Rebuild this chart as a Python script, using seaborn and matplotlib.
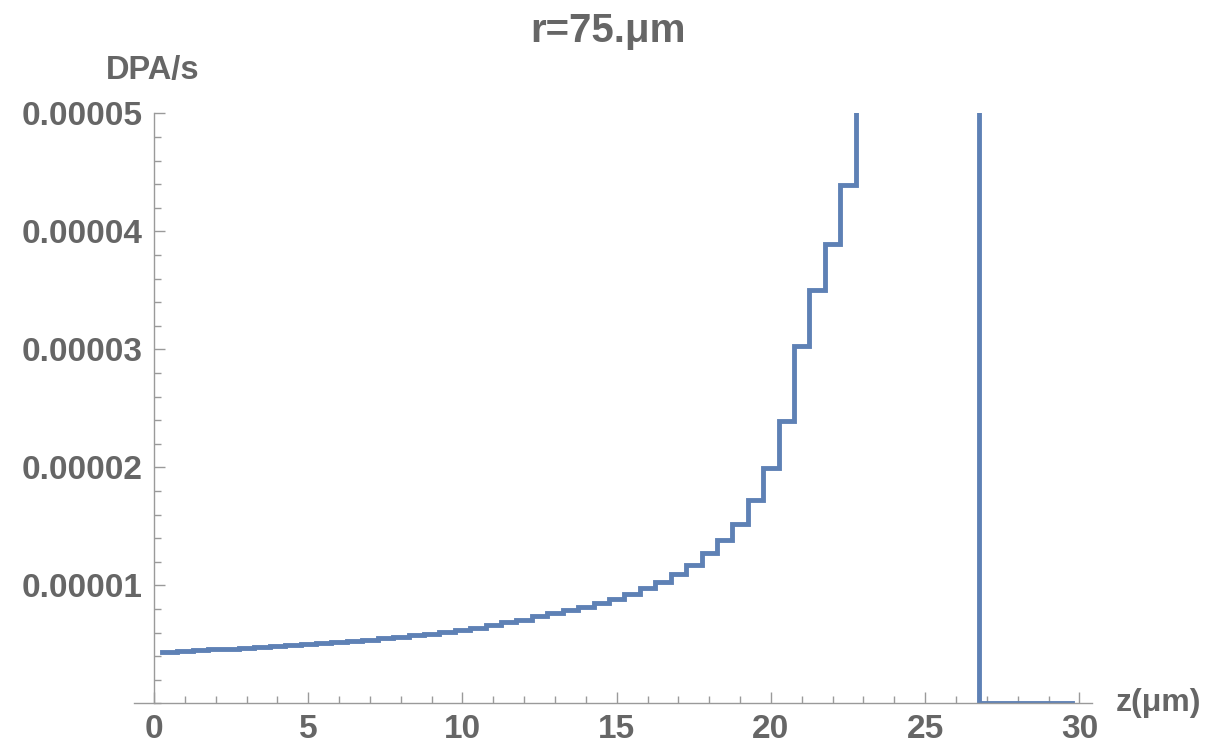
import numpy as np
import pandas as pd
import matplotlib
matplotlib.use("Agg")
import matplotlib.pyplot as plt
from matplotlib.ticker import FixedLocator, FixedFormatter, MultipleLocator
import seaborn as sns

# ---- data ----
# bin centres (µm), bins 0.5 µm wide
z_centers = [0.5, 1.0, 1.5, 2.0, 2.5, 3.0, 3.5, 4.0, 4.5, 5.0,
             5.5, 6.0, 6.5, 7.0, 7.5, 8.0, 8.5, 9.0, 9.5, 10.0,
             10.5, 11.0, 11.5, 12.0, 12.5, 13.0, 13.5, 14.0, 14.5, 15.0,
             15.5, 16.0, 16.5, 17.0, 17.5, 18.0, 18.5, 19.0, 19.5, 20.0,
             20.5, 21.0, 21.5, 22.0, 22.5, 23.0, 23.5, 24.0, 24.5, 25.0,
             25.5, 26.0, 26.5, 27.0, 27.5, 28.0, 28.5, 29.0, 29.5]
# DPA/s in units of 1e-6 (bins 23.0-26.5 lie above the plotted range)
dpa_e6 = [4.37, 4.45, 4.52, 4.58, 4.64, 4.71, 4.78, 4.86, 4.94, 5.02,
          5.10, 5.20, 5.30, 5.40, 5.52, 5.64, 5.76, 5.90, 6.05, 6.20,
          6.40, 6.62, 6.85, 7.10, 7.36, 7.63, 7.90, 8.20, 8.50, 8.85,
          9.26, 9.80, 10.3, 10.96, 11.7, 12.7, 13.8, 15.2, 17.2, 19.9,
          23.9, 30.3, 35.0, 38.9, 43.9, 60.0, 75.0, 95.0, 120.0, 160.0,
          220.0, 300.0, 400.0, 0.0, 0.0, 0.0, 0.0, 0.0, 0.0]
y_tick_values = [0.00001, 0.00002, 0.00003, 0.00004, 0.00005]
y_tick_labels = ["0.00001", "0.00002", "0.00003", "0.00004", "0.00005"]
x_tick_values = [0, 5, 10, 15, 20, 25, 30]
x_tick_labels = ["0", "5", "10", "15", "20", "25", "30"]
title_text = "r=75.\u03bcm"
y_label = "DPA/s"
x_label = "z(\u03bcm)"

# ---- build step table ----
half = 0.25
edges = [c - half for c in z_centers] + [z_centers[-1] + half]
vals = [v * 1e-6 for v in dpa_e6]
vals = vals + [vals[-1]]
df = pd.DataFrame({"z": edges, "dpa": vals})

sns.set_theme(style="white")
plt.rcParams["font.family"] = ["Liberation Sans", "DejaVu Sans"]

text_col = "#666666"
axis_col = "#9a9a9a"
line_col = "#5e81b5"

fig = plt.figure(figsize=(12.25, 7.48), dpi=100)
ax = fig.add_axes([134 / 1225, (748 - 703.3) / 748, (1091.7 - 134) / 1225, 590 / 748])

sns.lineplot(data=df, x="z", y="dpa", ax=ax, drawstyle="steps-post",
             color=line_col, linewidth=3.5, estimator=None, sort=False,
             solid_capstyle="projecting", solid_joinstyle="miter")

ax.set_xlim(-0.65, 30.4)
ax.set_ylim(0, 0.00005)

for s in ["top", "right"]:
    ax.spines[s].set_visible(False)
ax.spines["left"].set_position(("data", 0))
for s in ["left", "bottom"]:
    ax.spines[s].set_color(axis_col)
    ax.spines[s].set_linewidth(1.0)

ax.xaxis.set_major_locator(FixedLocator(x_tick_values))
ax.xaxis.set_major_formatter(FixedFormatter(x_tick_labels))
ax.xaxis.set_minor_locator(MultipleLocator(1))
ax.yaxis.set_major_locator(FixedLocator(y_tick_values))
ax.yaxis.set_major_formatter(FixedFormatter(y_tick_labels))
ax.yaxis.set_minor_locator(MultipleLocator(0.000002))

ax.tick_params(axis="both", which="both", direction="in", color=axis_col,
               width=1.0, labelcolor=text_col, bottom=True, left=True,
               top=False, right=False)
ax.tick_params(axis="both", which="major", length=8, labelsize=24)
ax.tick_params(axis="both", which="minor", length=5)
ax.tick_params(axis="x", which="major", pad=8)
ax.tick_params(axis="y", which="major", pad=8)
for lab in ax.get_xticklabels() + ax.get_yticklabels():
    lab.set_fontweight("bold")

ax.set_xlabel("")
ax.set_ylabel("")
ax.grid(False)

fig.text(608 / 1225, 1 - 31 / 748, title_text, ha="center", va="center",
         fontsize=29, fontweight="bold", color=text_col)
fig.text(153 / 1225, 1 - 70 / 748, y_label, ha="center", va="center",
         fontsize=23.5, fontweight="bold", color=text_col)
fig.text(1116 / 1225, 1 - 703 / 748, x_label, ha="left", va="center",
         fontsize=23, fontweight="bold", color=text_col)

fig.savefig("out.png", dpi=100, facecolor="white")
